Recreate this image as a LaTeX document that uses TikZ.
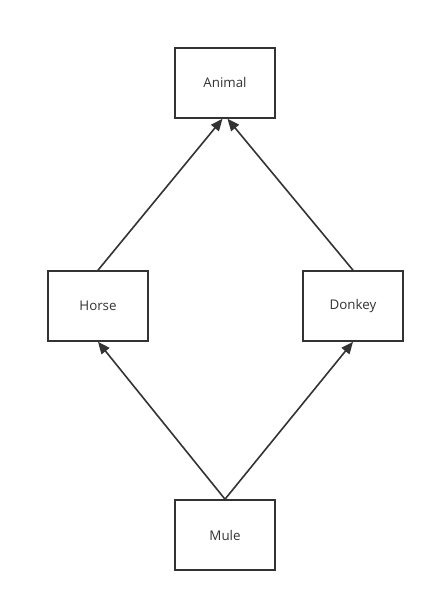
\documentclass[tikz,border=0pt]{standalone}
\usepackage{fontspec}
\setmainfont{Open Sans}
\usetikzlibrary{arrows.meta,calc}
\definecolor{ink}{HTML}{333333}
\begin{document}
\begin{tikzpicture}[x=0.75pt,y=-0.75pt,
  box/.style={draw=ink,line width=1.2pt,minimum width=75pt,minimum height=52.5pt,inner sep=0pt,font=\fontsize{10}{12}\selectfont,text=ink},
  conn/.style={draw=ink,line width=1.2pt,-{Triangle[length=9pt,width=7.5pt]}}]
\useasboundingbox[fill=white] (0,0) rectangle (435,602);
\node[box] (animal) at (225,83) {Animal};
\node[box] (horse) at (98,306) {Horse};
\node[box] (donkey) at (353,306) {Donkey};
\node[box] (mule) at (225,535) {Mule};
\coordinate (aL) at ($(animal.south)+(-2.5,0)$);
\coordinate (aR) at ($(animal.south)+(2.5,0)$);
\draw[conn] (horse.north) -- (aL);
\draw[conn] (donkey.north) -- (aR);
\draw[conn] (mule.north) -- (horse.south);
\draw[conn] (mule.north) -- (donkey.south);
\end{tikzpicture}
\end{document}
